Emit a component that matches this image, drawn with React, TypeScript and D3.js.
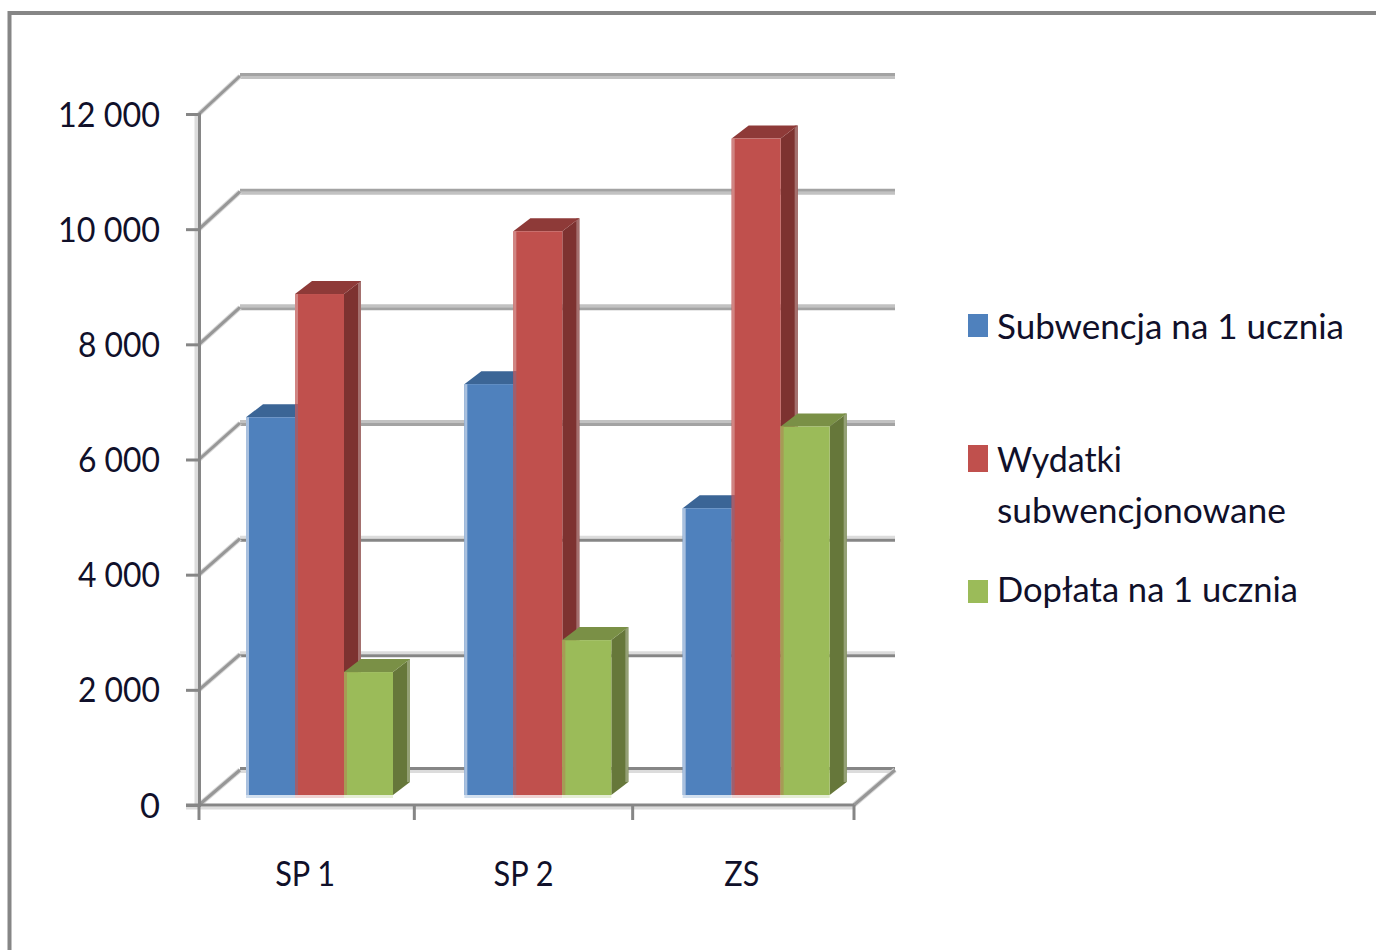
import { useEffect, useRef } from 'react';
import * as d3 from 'd3';

const categories = ['SP 1', 'SP 2', 'ZS'];
const seriesNames = ['Subwencja na 1 ucznia', 'Wydatki subwencjonowane', 'Dopłata na 1 ucznia'];
const subwencja = [6560, 7135, 4980];
const wydatki = [8700, 9790, 11400];
const doplata = [2135, 2690, 6400];
const yTicks = [0, 2000, 4000, 6000, 8000, 10000, 12000];

// front, side, top, edge
const palette = [
  { front: '#4f81bd', side: '#3a5f8c', top: '#3b6596', edge: '#a9c0de' },
  { front: '#c0504d', side: '#7d3230', top: '#8e3a38', edge: '#d08583' },
  { front: '#9bbb59', side: '#66773a', top: '#7a9046', edge: '#b5c98a' },
];

const GREY = '#868686';
const LIGHT = '#dcdcdc';
const FONT = 'Lato, "Open Sans", sans-serif';

const fmt = d3.formatLocale({ decimal: ',', thousands: ' ', grouping: [3], currency: ['', ''] }).format(',d');

export default function App() {
  const svgRef = useRef<SVGSVGElement>(null);

  useEffect(() => {
    if (!svgRef.current) return;
    const svg = d3.select(svgRef.current);
    svg.selectAll('*').remove();

    const plotLeft = 199;
    const plotRight = 854;
    const depthX = 41;
    const barDepthX = 17;
    const barDepthY = 13;

    const yFront = d3.scaleLinear().domain([0, 12000]).range([805, 114]);
    const yBack = d3.scaleLinear().domain([0, 12000]).range([770, 76]);
    const yBar = d3.scaleLinear().domain([0, 12000]).range([795, 104]);
    const x = d3.scaleBand<string>().domain(categories).range([196, 851]);
    const xSeries = d3.scaleBand<number>().domain([0, 1, 2]).range([50, 197]);

    // outer frame
    svg.append('path')
      .attr('d', d3.line()([[9.5, 950], [9.5, 13], [1376, 13]]))
      .attr('fill', 'none')
      .attr('stroke', GREY)
      .attr('stroke-width', 4);

    const slant = (g: any, x0: number, y0: number, x1: number, y1: number) => {
      g.append('line')
        .attr('x1', x0).attr('x2', x1).attr('y1', y0).attr('y2', y1)
        .attr('stroke', '#d8d8d8').attr('stroke-width', 5);
      g.append('line')
        .attr('x1', x0).attr('x2', x1).attr('y1', y0).attr('y2', y1)
        .attr('stroke', '#979797').attr('stroke-width', 3);
    };

    // back wall gridlines, upper ones look washed out in the source
    const grid = svg.append('g');
    yTicks.forEach(t => {
      const dark = t <= 4000 ? GREY : '#a3a3a3';
      const light = t <= 4000 ? LIGHT : '#c2c2c2';
      const flip = t >= 2000 && t <= 8000;
      const y = yBack(t);
      grid.append('line')
        .attr('x1', plotLeft + depthX).attr('x2', plotRight + depthX)
        .attr('y1', y + (flip ? -1.5 : 1.5)).attr('y2', y + (flip ? -1.5 : 1.5))
        .attr('stroke', light).attr('stroke-width', 3);
      grid.append('line')
        .attr('x1', plotLeft + depthX).attr('x2', plotRight + depthX)
        .attr('y1', y + (flip ? 1.5 : -1.5)).attr('y2', y + (flip ? 1.5 : -1.5))
        .attr('stroke', dark).attr('stroke-width', 3);
      slant(grid, plotLeft, yFront(t), plotLeft + depthX, y);
    });
    // floor right edge
    slant(grid, plotRight, yFront(0), plotRight + depthX, yBack(0));

    // axes
    const axisGroup = svg.append('g');
    axisGroup.append('line')
      .attr('x1', plotLeft - 2.5).attr('x2', plotLeft - 2.5)
      .attr('y1', yFront(12000)).attr('y2', yFront(0))
      .attr('stroke', LIGHT).attr('stroke-width', 4);
    axisGroup.append('line')
      .attr('x1', plotLeft - 13).attr('x2', plotRight)
      .attr('y1', yFront(0) + 3).attr('y2', yFront(0) + 3)
      .attr('stroke', LIGHT).attr('stroke-width', 3);

    const yAxis = svg.append('g')
      .attr('transform', `translate(${plotLeft},0)`)
      .call(d3.axisLeft(yFront).tickValues(yTicks).tickFormat(d => fmt(d as number)).tickSize(13).tickPadding(26));
    yAxis.selectAll('path,line').attr('stroke', GREY).attr('stroke-width', 3);
    yAxis.selectAll('text')
      .attr('dy', '12')
      .attr('fill', '#10102a')
      .style('font-family', FONT)
      .style('font-size', '34px')
      .attr('textLength', d => ((d as number) >= 10000 ? 102 : (d as number) === 0 ? 20 : 82))
      .attr('lengthAdjust', 'spacingAndGlyphs');

    // x axis, inner ticks on the band edges, outer ticks on the plot ends
    const xAxis = svg.append('g').attr('transform', `translate(0,${yFront(0)})`);
    xAxis.append('line')
      .attr('x1', plotLeft - 13).attr('x2', plotRight)
      .attr('stroke', GREY).attr('stroke-width', 3);
    const tickXs = [plotLeft, x(categories[1])!, x(categories[2])!, plotRight];
    xAxis.selectAll('.tick-x')
      .data(tickXs)
      .join('line')
      .attr('class', 'tick-x')
      .attr('x1', d => d).attr('x2', d => d)
      .attr('y1', 0).attr('y2', 15)
      .attr('stroke', GREY).attr('stroke-width', 3);
    xAxis.selectAll('.cat')
      .data(categories)
      .join('text')
      .attr('class', 'cat')
      .attr('x', d => x(d)! + x.bandwidth() / 2)
      .attr('y', 81)
      .attr('text-anchor', 'middle')
      .attr('fill', '#10102a')
      .style('font-family', FONT)
      .style('font-size', '34px')
      .attr('textLength', d => (d === 'ZS' ? 35 : 60))
      .attr('lengthAdjust', 'spacingAndGlyphs')
      .text(d => d);

    // bars, painted left to right so each one covers the neighbour's side
    const allSeries = [subwencja, wydatki, doplata];
    categories.forEach((cat, c) => {
      allSeries.forEach((values, s) => {
        const col = palette[s];
        const x0 = x(cat)! + xSeries(s)!;
        const x1 = x0 + xSeries.bandwidth();
        const yTop = yBar(values[c]);
        const yBase = yBar(0);
        const bar = svg.append('g');
        // side face
        bar.append('path')
          .attr('d', d3.line()([
            [x1, yTop], [x1 + barDepthX, yTop - barDepthY],
            [x1 + barDepthX, yBase - barDepthY], [x1, yBase],
          ])! + 'Z')
          .attr('fill', col.side);
        bar.append('line')
          .attr('x1', x1 + barDepthX - 1.5).attr('x2', x1 + barDepthX - 1.5)
          .attr('y1', yTop - barDepthY).attr('y2', yBase - barDepthY)
          .attr('stroke', d3.interpolateRgb(col.side, '#ffffff')(0.3)).attr('stroke-width', 3);
        // top face
        bar.append('path')
          .attr('d', d3.line()([
            [x0, yTop], [x0 + barDepthX, yTop - barDepthY],
            [x1 + barDepthX, yTop - barDepthY], [x1, yTop],
          ])! + 'Z')
          .attr('fill', col.top);
        // front face
        bar.append('rect')
          .attr('x', x0).attr('y', yTop)
          .attr('width', x1 - x0).attr('height', yBase - yTop)
          .attr('fill', col.front);
        // pale antialias rims from the source
        bar.append('rect')
          .attr('x', x0).attr('y', yBase)
          .attr('width', x1 - x0).attr('height', 3)
          .attr('fill', d3.interpolateRgb(col.front, '#ffffff')(0.75));
        // left rim: pale against the white, muted where it sits on the neighbour
        const neighbourTop = s > 0 ? yBar(allSeries[s - 1][c]) : yTop;
        const paleEnd = s === 0 ? yBase : Math.max(yTop, neighbourTop - barDepthY);
        bar.append('rect')
          .attr('x', x0).attr('y', yTop)
          .attr('width', 3).attr('height', paleEnd - yTop)
          .attr('fill', col.edge);
        if (s > 0) {
          bar.append('rect')
            .attr('x', x0).attr('y', paleEnd)
            .attr('width', 3).attr('height', yBase - paleEnd)
            .attr('fill', d3.interpolateRgb(col.front, palette[s - 1].front)(0.3));
        }
      });
    });

    // legend
    const legendRows = [
      { name: seriesNames[0], lines: ['Subwencja na 1 ucznia'], widths: [347], swatchH: 23, swatchY: 314, baseline: [339] },
      { name: seriesNames[1], lines: ['Wydatki', 'subwencjonowane'], widths: [125, 289], swatchH: 27, swatchY: 445, baseline: [472, 523] },
      { name: seriesNames[2], lines: ['Dopłata na 1 ucznia'], widths: [301], swatchH: 23, swatchY: 580, baseline: [602] },
    ];
    const legend = svg.append('g');
    legendRows.forEach((row, i) => {
      legend.append('rect')
        .attr('x', 968).attr('y', row.swatchY)
        .attr('width', 20).attr('height', row.swatchH)
        .attr('fill', palette[i].front);
      row.lines.forEach((line, j) => {
        legend.append('text')
          .attr('x', 997).attr('y', row.baseline[j])
          .attr('fill', '#10102a')
          .style('font-family', FONT)
          .style('font-size', '34px')
          .attr('textLength', row.widths[j])
          .attr('lengthAdjust', 'spacingAndGlyphs')
          .text(line);
      });
    });
  }, []);

  return (
    <svg
      ref={svgRef}
      width={1376}
      height={950}
      style={{ position: 'absolute', left: 0, top: 0, display: 'block', background: '#fff' }}
    />
  );
}
